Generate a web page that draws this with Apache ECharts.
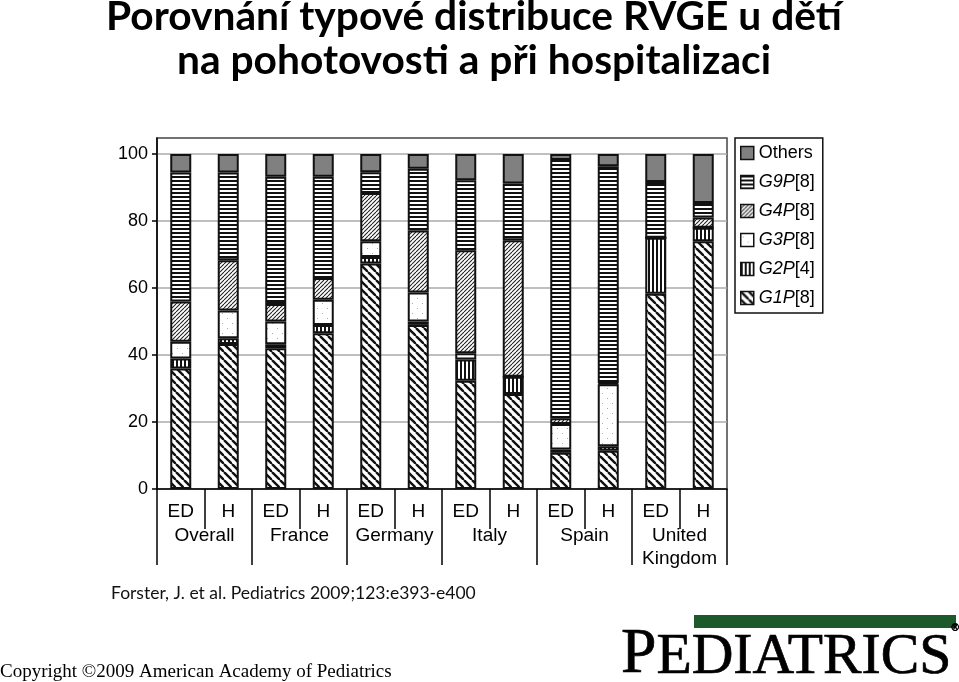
<!DOCTYPE html>
<html>
<head>
<meta charset="utf-8">
<script src="https://cdn.jsdelivr.net/npm/echarts@6/dist/echarts.min.js"></script>
<style>
html,body{margin:0;padding:0;background:#fff;}
#chart{width:959px;height:682px;}
</style>
</head>
<body>
<div id="chart"></div>
<script>
// ---- data ----
var subCategories = ['ED','H','ED','H','ED','H','ED','H','ED','H','ED','H'];
var countries = ['Overall','France','Germany','Italy','Spain','United\nKingdom'];
var yTicks = [0, 20, 40, 60, 80, 100];
var g1p = [36, 43.3, 42, 46.5, 67.3, 49, 32.3, 28.4, 10.8, 11.4, 58.3, 74];
var g2p = [3, 1.7, 1.2, 2.5, 2, 1, 6.4, 5.1, 1, 1.4, 16.7, 4];
var g3p = [5, 8.3, 6.8, 7.5, 4.7, 8.7, 1.8, 0, 7.6, 18.5, 0, 0];
var g4p = [12, 15, 5.2, 6.5, 14.4, 18.5, 30.8, 40.8, 1.7, 0.3, 0, 3.1];
var g9p = [38.5, 26.2, 38, 30.2, 6.2, 18.4, 20.9, 16.9, 77.1, 64.8, 16.7, 4.3];
var others = [5.5, 5.5, 6.8, 6.8, 5.4, 4.4, 7.8, 8.8, 1.8, 3.6, 8.3, 14.6];
var legendOrder = ['Others','G9P[8]','G4P[8]','G3P[8]','G2P[4]','G1P[8]'];

// ---- patterns ----
function makeTile(size, draw){
  var c = document.createElement('canvas');
  c.width = size; c.height = size;
  var ctx = c.getContext('2d');
  ctx.fillStyle = '#fff';
  ctx.fillRect(0,0,size,size);
  draw(ctx, size);
  return {image: c, repeat: 'repeat'};
}
var patG1 = makeTile(8, function(ctx,s){
  ctx.strokeStyle = '#111'; ctx.lineWidth = 2.4;
  for (var k=-1;k<=1;k++){ ctx.beginPath(); ctx.moveTo(k*s,0); ctx.lineTo(k*s+s,s); ctx.stroke(); }
});
var patG2 = makeTile(4, function(ctx,s){
  ctx.fillStyle = '#111'; ctx.fillRect(0,0,2,s);
});
var patG3 = makeTile(10, function(ctx,s){
  ctx.fillStyle = '#aaa'; ctx.fillRect(2,3,1,1); ctx.fillRect(7,8,1,1);
});
var patG4 = makeTile(4, function(ctx,s){
  ctx.strokeStyle = '#222'; ctx.lineWidth = 1.1;
  for (var k=-1;k<=1;k++){ ctx.beginPath(); ctx.moveTo(k*s,s); ctx.lineTo(k*s+s,0); ctx.stroke(); }
});
var patG9 = makeTile(4, function(ctx,s){
  ctx.fillStyle = '#111'; ctx.fillRect(0,0,s,2);
});

function barSeries(name, data, color){
  return {
    name: name, type: 'bar', stack: 'total', data: data,
    xAxisIndex: 0, barWidth: 21,
    itemStyle: {color: color, borderColor: '#111', borderWidth: 2},
    emphasis: {disabled: true}
  };
}

var chart = echarts.init(document.getElementById('chart'));
chart.setOption({
  animation: false,
  backgroundColor: '#fff',
  title: [
    {text: 'Porovnání typové distribuce RVGE u dětí\nna pohotovosti a při hospitalizaci',
     left: 474, textAlign: 'center', top: -5, padding: 0,
     textStyle: {fontFamily: 'Lato', fontWeight: 'bold', fontSize: 40.7, lineHeight: 44, color: '#000'}},
    {text: 'Forster, J. et al. Pediatrics 2009;123:e393-e400', left: 111, top: 584, padding: 0,
     textStyle: {fontFamily: 'Lato', fontWeight: 'normal', fontSize: 17.5, color: '#111'}},
    {text: 'Copyright ©2009 American Academy of Pediatrics', left: 0, top: 663, padding: 0,
     textStyle: {fontFamily: 'Liberation Serif', fontWeight: 'normal', fontSize: 19, color: '#000'}}
  ],
  graphic: [
    {type: 'rect', shape: {x: 694, y: 615, width: 262, height: 13}, style: {fill: '#1d5a2b'}},
    {type: 'text', x: 621, y: 623, scaleX: 0.995,
     style: {text: '{p|P}{r|EDIATRICS}{s|®}', stroke: '#000', lineWidth: 0.6,
       rich: {
         p: {fontFamily: 'Liberation Serif', fontSize: 64, fill: '#000', stroke: '#000', lineWidth: 0.7, verticalAlign: 'bottom'},
         r: {fontFamily: 'Liberation Serif', fontSize: 58, fill: '#000', stroke: '#000', lineWidth: 0.7, verticalAlign: 'bottom'},
         s: {fontFamily: 'Liberation Sans', fontSize: 10, fill: '#000', verticalAlign: 'top'}
       }}}
  ],
  legend: {
    orient: 'vertical', left: 735, top: 138,
    data: legendOrder,
    itemWidth: 13, itemHeight: 13, itemGap: 11,
    padding: [6, 8, 6, 5],
    borderColor: '#111', borderWidth: 1.5, backgroundColor: '#fff',
    icon: 'rect',
    itemStyle: {borderColor: '#111', borderWidth: 1.5},
    formatter: function(name){
      var m = name.match(/^(G\dP)(\[\d\])$/);
      if (m) return '{i|' + m[1] + '}{n|' + m[2] + '}';
      return '{n|' + name + '}';
    },
    textStyle: {rich: {
      i: {fontFamily: 'Liberation Sans', fontStyle: 'italic', fontSize: 18, color: '#000'},
      n: {fontFamily: 'Liberation Sans', fontSize: 18, color: '#000'}
    }}
  },
  grid: {left: 157, right: 232, top: 138, bottom: 193, show: true, borderColor: '#444', borderWidth: 1.5, backgroundColor: 'transparent'},
  xAxis: [
    {type: 'category', data: subCategories, position: 'bottom',
     axisLine: {lineStyle: {color: '#000', width: 1.5}},
     axisTick: {show: true, length: 40, interval: 0, lineStyle: {color: '#000', width: 1.5}},
     axisLabel: {interval: 0, margin: 13, fontFamily: 'Liberation Sans', fontSize: 19, color: '#000'},
     splitLine: {show: false}},
    {type: 'category', data: countries, position: 'bottom',
     axisLine: {show: false},
     axisTick: {show: true, length: 76, interval: 0, lineStyle: {color: '#000', width: 1.5}},
     axisLabel: {interval: 0, margin: 35, fontFamily: 'Liberation Sans', fontSize: 19, lineHeight: 23, color: '#000'},
     splitLine: {show: false}}
  ],
  yAxis: {
    type: 'value', min: 0, max: 104.8, interval: 20,
    axisLine: {show: true, lineStyle: {color: '#000', width: 1.5}},
    axisTick: {show: true, length: 5, customValues: yTicks, lineStyle: {color: '#000', width: 1.5}},
    axisLabel: {customValues: yTicks, margin: 9, fontFamily: 'Liberation Sans', fontSize: 18, color: '#000'},
    splitLine: {show: true, lineStyle: {color: '#aaa', width: 1.5}}
  },
  series: [
    barSeries('G1P[8]', g1p, patG1),
    barSeries('G2P[4]', g2p, patG2),
    barSeries('G3P[8]', g3p, patG3),
    barSeries('G4P[8]', g4p, patG4),
    barSeries('G9P[8]', g9p, patG9),
    barSeries('Others', others, '#808080')
  ]
});
</script>
</body>
</html>
